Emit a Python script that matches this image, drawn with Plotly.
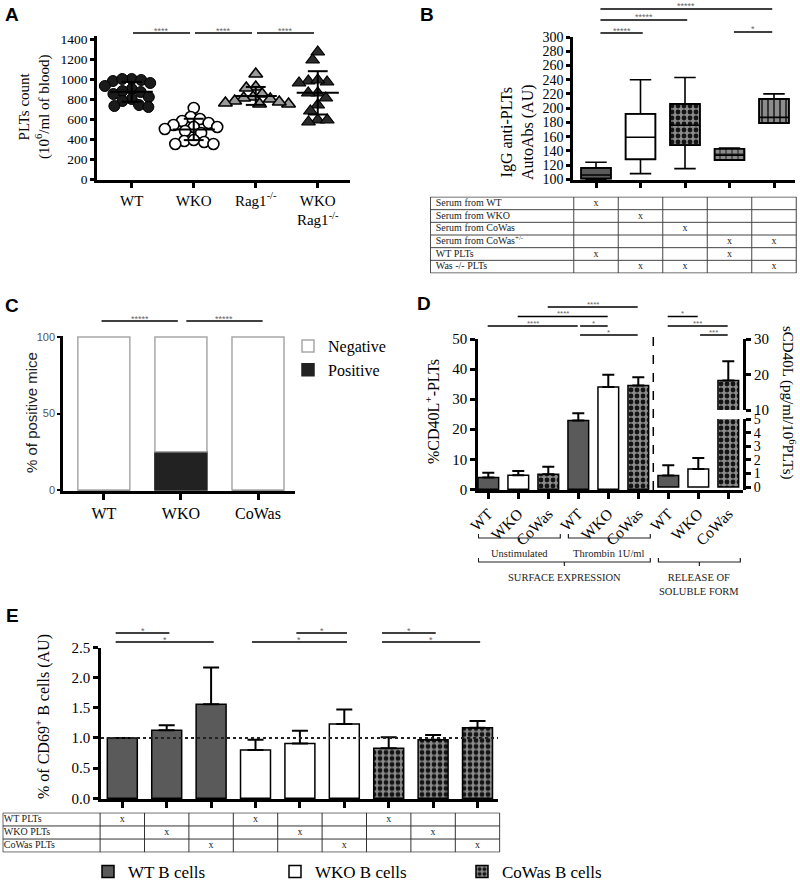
import numpy as np
import plotly.graph_objects as go

W, H = 800, 883
SERIF = "Liberation Serif"
SANS = "Liberation Sans"


def fx(px):
    return px / W


def fy(px):
    return 1 - px / H


# ------------------------------------------------------------------ data
# Panel A : platelet counts (10^6/ml of blood)
a_groups = ["WT", "WKO", "Rag1<sup>-/-</sup>", "WKO<br>Rag1<sup>-/-</sup>"]
a_wt = [1000, 990, 980, 1000, 960, 930, 900, 880, 870, 850, 820, 800, 780, 740, 720, 730]
a_wko = [710, 620, 600, 580, 560, 540, 520, 520, 500, 480, 460, 380, 370, 350, 350, 390]
a_rag = [1050, 920, 910, 850, 820, 810, 800, 780, 760, 750, 750, 770]
a_wkorag = [1270, 1190, 980, 960, 970, 990, 860, 860, 810, 740, 680, 590, 570, 590]
a_ticks = [0, 200, 400, 600, 800, 1000, 1200, 1400]
a_sig = [(0, 1, "****"), (1, 2, "****"), (2, 3, "****")]

# Panel B : IgG anti-PLT auto-antibodies (box statistics)
b_q1 = [101, 128, 148, 127, 179]
b_med = [106, 159, 176, 134, 187]
b_q3 = [116, 192, 206, 143, 213]
b_lo = [100, 108, 115, 127, 179]
b_hi = [124, 240, 243, 144, 220]
b_ticks = [100, 120, 140, 160, 180, 200, 220, 240, 260, 280, 300]
b_rows = ["Serum from WT", "Serum from WKO", "Serum from CoWas",
          "Serum from CoWas<sup>+/-</sup>", "WT PLTs", "Was -/- PLTs"]
b_marks = [[1, 0, 0, 0, 0],
           [0, 1, 0, 0, 0],
           [0, 0, 1, 0, 0],
           [0, 0, 0, 1, 1],
           [1, 0, 0, 1, 0],
           [0, 1, 1, 0, 1]]
b_sig = [(0, 1, 1, "*****"), (3, 4, 1, "*"), (0, 2, 2, "*****"), (0, 4, 3, "*****")]

# Panel C : % of positive mice
c_groups = ["WT", "WKO", "CoWas"]
c_pos = [0, 25, 0]
c_neg = [100, 75, 100]
c_sig = [(0, 1, "*****"), (1, 2, "*****")]

# Panel D : CD40L
d_labels = ["WT", "WKO", "CoWas", "WT", "WKO", "CoWas", "WT", "WKO", "CoWas"]
d_surface = [3.9, 4.7, 5.0, 22.9, 34.0, 34.5]
d_surface_err = [5.5, 6.1, 7.5, 25.3, 38.1, 37.3]
d_soluble = [0.84, 1.33, 18.3]
d_soluble_err = [1.6, 2.14, 23.7]
d_sig = [(2, 5, 1, "****"), (1, 4, 2, "****"), (0, 3, 3, "****"), (3, 4, 3, "*"),
         (3, 5, 4, "*"), (6, 7, 2, "*"), (6, 8, 3, "***"), (7, 8, 4, "***")]
d_brackets = [("Unstimulated", 0, 2, 0), ("Thrombin 1U/ml", 3, 5, 0),
              ("SURFACE EXPRESSION", 0, 5, 1), ("RELEASE OF<br>SOLUBLE FORM", 6, 8, 1)]

# Panel E : CD69+ B cells
e_names = ["WT B cells", "WKO B cells", "CoWas B cells"]
e_vals = [[1.00, 1.13, 1.56], [0.80, 0.91, 1.23], [0.83, 0.97, 1.17]]
e_errs = [[1.00, 1.21, 2.17], [0.97, 1.12, 1.47], [1.01, 1.05, 1.28]]
e_ticks = [0.0, 0.5, 1.0, 1.5, 2.0, 2.5]
e_rows = ["WT PLTs", "WKO PLTs", "CoWas PLTs"]
e_marks = [[1, 0, 0, 1, 0, 0, 1, 0, 0],
           [0, 1, 0, 0, 1, 0, 0, 1, 0],
           [0, 0, 1, 0, 0, 1, 0, 0, 1]]
e_sig = [(0, 1, 1, "*"), (0, 2, 2, "*"), (3, 5, 2, "*"), (4, 5, 1, "*"),
         (6, 7, 1, "*"), (6, 8, 2, "*")]

# ------------------------------------------------------------------ styles
CHK = dict(color="#8a8a8a", shape=".", fg="#141414", size=6, solidity=0.5)
STY = {
    "WT": dict(color="#5a5a5a", shape=""),
    "WKO": dict(color="white", shape=""),
    "CoWas": CHK,
}
B_STY = [dict(color="#5a5a5a", shape=""),
         dict(color="white", shape=""),
         CHK,
         dict(color="#8c8c8c", shape="+", fg="#2a2a2a", size=6, solidity=0.35),
         dict(color="#8c8c8c", shape="|", fg="#2a2a2a", size=6, solidity=0.3)]


def bar_marker(st):
    m = dict(color=st["color"], line=dict(color="black", width=1.5))
    if st.get("shape"):
        m["pattern"] = dict(shape=st["shape"], fgcolor=st["fg"], bgcolor=st["color"],
                            size=st["size"], solidity=st["solidity"], fillmode="replace")
    return m


def swarm_offsets(values, xscale_px, yscale_px, diam_px):
    values = np.asarray(values, float)
    order = np.argsort(-values, kind="stable")
    placed = []
    offs = np.zeros(len(values))
    for idx in order:
        y = values[idx] * yscale_px
        cands = [0.0]
        for (px_, py_) in placed:
            dy = abs(py_ - y)
            if dy < diam_px:
                dx = np.sqrt(diam_px ** 2 - dy ** 2)
                cands += [px_ + dx, px_ - dx]
        cands = sorted(cands, key=lambda c: (abs(c), c))
        for c in cands:
            if all((c - px_) ** 2 + (y - py_) ** 2 >= diam_px ** 2 - 1e-6 for px_, py_ in placed):
                offs[idx] = c
                placed.append((c, y))
                break
    return offs / xscale_px


fig = go.Figure()
shapes, annotations = [], []


def add_sig(xref, x0, x1, ypx, label, size=9):
    shapes.append(dict(type="line", xref=xref, yref="paper", x0=x0, x1=x1,
                       y0=fy(ypx), y1=fy(ypx), line=dict(color="black", width=1.4)))
    annotations.append(dict(xref=xref, yref="paper", x=(x0 + x1) / 2, y=fy(ypx - 2.5),
                            text=label, showarrow=False, xanchor="center", yanchor="middle",
                            font=dict(family=SANS, size=size, color="#666")))


def add_text(x, y, text, size=15, angle=0, family=SERIF, color="black", **kw):
    d = dict(xref="paper", yref="paper", x=fx(x), y=fy(y), text=text, showarrow=False,
             xanchor="center", yanchor="middle",
             textangle=angle, font=dict(family=family, size=size, color=color))
    d.update(kw)
    annotations.append(d)


# ------------------------------------------------------------------ Panel A
a_sets = [a_wt, a_wko, a_rag, a_wkorag]
a_markers = [dict(symbol="circle", size=11, color="#1a1a1a", line=dict(color="black", width=1)),
             dict(symbol="circle", size=11, color="white", line=dict(color="black", width=1.6)),
             dict(symbol="triangle-up", size=12, color="#9a9a9a", line=dict(color="black", width=1.6)),
             dict(symbol="triangle-up", size=12, color="#2a2a2a", line=dict(color="black", width=1.2))]
A_UNIT, A_YPX = 62.0, 0.1
for i, (vals, mk) in enumerate(zip(a_sets, a_markers)):
    off = swarm_offsets(vals, A_UNIT, A_YPX, 9.5)
    fig.add_trace(go.Scatter(x=i + off, y=vals, mode="markers", marker=mk,
                             xaxis="x", yaxis="y", showlegend=False, hoverinfo="skip"))
lx, ly = [], []
for i, vals in enumerate(a_sets):
    m = float(np.mean(vals))
    s = float(np.std(vals, ddof=1))
    lx += [i - 0.34, i + 0.34, None, i - 0.16, i + 0.16, None, i - 0.16, i + 0.16, None, i, i, None]
    ly += [m, m, None, m + s, m + s, None, m - s, m - s, None, m - s, m + s, None]
fig.add_trace(go.Scatter(x=lx, y=ly, mode="lines", line=dict(color="black", width=2),
                         xaxis="x", yaxis="y", showlegend=False, hoverinfo="skip"))
for i, j, lab in a_sig:
    add_sig("x", i + 0.02, j - 0.06, 33, lab)

# ------------------------------------------------------------------ Panel B
for k in range(len(b_q1)):
    fig.add_trace(go.Bar(x=[k], y=[b_q3[k] - b_q1[k]], base=[b_q1[k]], width=0.67,
                         marker=bar_marker(B_STY[k]),
                         xaxis="x2", yaxis="y2", showlegend=False, hoverinfo="skip"))
fig.add_trace(go.Box(x=list(range(len(b_q1))), q1=b_q1, median=b_med, q3=b_q3,
                     lowerfence=b_lo, upperfence=b_hi,
                     width=0.67, whiskerwidth=0.72, fillcolor="rgba(0,0,0,0)",
                     line=dict(color="black", width=1.6), boxpoints=False,
                     xaxis="x2", yaxis="y2", showlegend=False, hoverinfo="skip"))
b_tier = {1: 33, 2: 20, 3: 9}
for i, j, t, lab in b_sig:
    add_sig("x2", i + 0.1, j + 0.05 if j < 4 else j - 0.04, b_tier[t] - (1 if lab == "*" else 0), lab)

# table B
nb_rows, nb_cols = len(b_rows), len(b_marks[0])
TB_LEFT = -3.72
tx, ty, tt = [], [], []
for r, row in enumerate(b_marks):
    for c, v in enumerate(row):
        if v:
            tx.append(c); ty.append(r + 0.5); tt.append("x")
fig.add_trace(go.Scatter(x=tx, y=ty, text=tt, mode="text", textfont=dict(family=SERIF, size=10, color="#222"),
                         xaxis="x3", yaxis="y3", showlegend=False, hoverinfo="skip"))
fig.add_trace(go.Scatter(x=[TB_LEFT + 0.12] * nb_rows, y=np.arange(nb_rows) + 0.5, text=b_rows,
                         mode="text", textposition="middle right",
                         textfont=dict(family=SERIF, size=10, color="#222"),
                         xaxis="x3", yaxis="y3", showlegend=False, hoverinfo="skip"))
for r in range(nb_rows + 1):
    shapes.append(dict(type="line", xref="x3", yref="y3", x0=TB_LEFT, x1=nb_cols - 0.5, y0=r, y1=r,
                       line=dict(color="#444", width=1)))
for c in [TB_LEFT] + [k - 0.5 for k in range(nb_cols + 1)]:
    shapes.append(dict(type="line", xref="x3", yref="y3", x0=c, x1=c, y0=0, y1=nb_rows,
                       line=dict(color="#444", width=1)))

# ------------------------------------------------------------------ Panel C
c_x = np.arange(len(c_groups))
fig.add_trace(go.Bar(x=c_x, y=c_pos, width=0.675, name="Positive", legend="legend2", legendrank=2,
                     marker=dict(color="#222222", line=dict(color="#222222", width=1.5)),
                     xaxis="x4", yaxis="y4", hoverinfo="skip"))
fig.add_trace(go.Bar(x=c_x, y=c_neg, base=c_pos, width=0.675, name="Negative", legend="legend2", legendrank=1,
                     marker=dict(color="white", line=dict(color="#a8a8a8", width=1.5)),
                     xaxis="x4", yaxis="y4", hoverinfo="skip"))
for k, (i, j, lab) in enumerate(c_sig):
    add_sig("x4", i - 0.03 + 0.1 * k, j - 0.04 + 0.1 * k, 321, lab)

# ------------------------------------------------------------------ Panel D
n_surf = len(d_surface)
d_x = np.arange(len(d_labels))
d_val = np.array(d_surface + d_soluble)
d_err = np.array(d_surface_err + d_soluble_err)
is_surf = d_x < n_surf
err_kw = dict(type="data", symmetric=False, color="black", thickness=2, width=6)
for geno in ["WT", "WKO", "CoWas"]:
    sel = np.array([l == geno for l in d_labels])
    for yax, part in [("y5", sel & is_surf), ("y6", sel & ~is_surf), ("y7", sel & ~is_surf)]:
        fig.add_trace(go.Bar(x=d_x[part], y=d_val[part], width=0.69, marker=bar_marker(STY[geno]),
                             error_y=dict(array=d_err[part] - d_val[part],
                                          arrayminus=np.zeros(part.sum()), **err_kw),
                             xaxis="x5", yaxis=yax, showlegend=False, hoverinfo="skip"))
d_tier = {1: 307, 2: 316.5, 3: 326, 4: 335}
for i, j, t, lab in d_sig:
    add_sig("x5", i - 0.02 + (0.08 if t >= 3 and i in (3, 7) else 0), j - 0.02, d_tier[t], lab, size=8)
shapes.append(dict(type="line", xref="x5", yref="paper", x0=n_surf - 0.5, x1=n_surf - 0.5,
                   y0=fy(490), y1=fy(332), line=dict(color="black", width=1.5, dash="dash")))
for lab, g0, g1, lvl in d_brackets:
    x0, x1 = g0 - 0.33, g1 + 0.40
    xc = (x0 + x1) / 2
    yb = 538 if lvl == 0 else 562
    shapes.append(dict(type="path", xref="x5", yref="paper",
                       path=f"M{x0},{fy(yb - 4)} L{x0},{fy(yb)} L{x1},{fy(yb)} L{x1},{fy(yb - 4)} "
                            f"M{xc},{fy(yb)} L{xc},{fy(yb + 4)}",
                       line=dict(color="#222", width=1.2)))
    annotations.append(dict(xref="x5", yref="paper", x=xc, y=fy(yb + 8), xanchor="center", yanchor="top",
                            text=lab, showarrow=False,
                            font=dict(family=SERIF, size=10.5, color="#222")))

# ------------------------------------------------------------------ Panel E
ng = len(e_vals[0])
for g, (name, vals, errs) in enumerate(zip(e_names, e_vals, e_errs)):
    st = STY[name.split()[0]]
    fig.add_trace(go.Bar(x=g * ng + np.arange(ng), y=vals, width=0.675, name=name, legend="legend",
                         marker=bar_marker(st),
                         error_y=dict(array=np.array(errs) - np.array(vals), arrayminus=[0] * ng,
                                      type="data", symmetric=False, color="black", thickness=2, width=8),
                         xaxis="x8", yaxis="y8", hoverinfo="skip"))
shapes.append(dict(type="line", xref="x8 domain", yref="y8", x0=0, x1=1, y0=1.0, y1=1.0,
                   line=dict(color="#222", width=2, dash="dot")))
e_tier = {1: 633, 2: 642}
for i, j, t, lab in e_sig:
    add_sig("x8", i - 0.15 if i in (0, 6) else i - 0.08, j + 0.06, e_tier[t], lab)

# table E
ne_rows, ne_cols = len(e_rows), len(e_marks[0])
TE_LEFT = -2.69
tx, ty, tt = [], [], []
for r, row in enumerate(e_marks):
    for c, v in enumerate(row):
        if v:
            tx.append(c); ty.append(r + 0.5); tt.append("x")
fig.add_trace(go.Scatter(x=tx, y=ty, text=tt, mode="text", textfont=dict(family=SERIF, size=10, color="#222"),
                         xaxis="x9", yaxis="y9", showlegend=False, hoverinfo="skip"))
fig.add_trace(go.Scatter(x=[TE_LEFT + 0.02] * ne_rows, y=np.arange(ne_rows) + 0.5, text=e_rows,
                         mode="text", textposition="middle right",
                         textfont=dict(family=SERIF, size=10, color="#222"),
                         xaxis="x9", yaxis="y9", showlegend=False, hoverinfo="skip"))
for r in range(ne_rows + 1):
    shapes.append(dict(type="line", xref="x9", yref="y9", x0=TE_LEFT, x1=ne_cols - 0.5, y0=r, y1=r,
                       line=dict(color="#333", width=1)))
for c in [TE_LEFT] + [k - 0.5 for k in range(ne_cols + 1)]:
    shapes.append(dict(type="line", xref="x9", yref="y9", x0=c, x1=c, y0=0, y1=ne_rows,
                       line=dict(color="#333", width=1)))

# ------------------------------------------------------------------ text
add_text(12, 15, "<b>A</b>", 19, family=SANS)
add_text(427, 15, "<b>B</b>", 19, family=SANS)
add_text(12, 305, "<b>C</b>", 19, family=SANS)
add_text(424, 303, "<b>D</b>", 19, family=SANS)
add_text(12, 615, "<b>E</b>", 19, family=SANS)
add_text(34, 107, "PLTs count<br>(10<sup>6</sup>/ml of blood)", 15, angle=-90)
add_text(517, 132, "IgG anti-PLTs<br>AutoAbs (AU)", 16, angle=-90)
add_text(31, 413, "% of positive mice", 15, angle=-90, family=SANS, color="#222")
add_text(432, 412, "%CD40L<sup>+</sup>-PLTs", 16, angle=-90)
add_text(789, 403, "sCD40L (pg/ml/10<sup>6</sup>PLTs)", 15, angle=90)
add_text(42, 717, "% of CD69<sup>+</sup> B cells (AU)", 16, angle=-90)


# ------------------------------------------------------------------ axes
def ax(domain, rng, **kw):
    d = dict(domain=domain, range=rng, showgrid=False, zeroline=False, showline=True,
             linecolor="black", linewidth=2.5, ticks="outside", ticklen=5, tickwidth=2.5,
             tickcolor="black", tickfont=dict(family=SERIF, size=14, color="black"),
             fixedrange=True, automargin=False)
    d.update(kw)
    return d


def hidden(domain, rng):
    return dict(domain=domain, range=rng, visible=False, showgrid=False, zeroline=False,
                fixedrange=True, automargin=False)


B0, BU = 596.0, 44.5   # panel B: px of x=0 and px per unit
D0, DU = 488.3, 30.0
E0, EU = 122.3, 44.4

layout = dict(
    width=W, height=H, margin=dict(l=0, r=0, t=0, b=0, pad=0, autoexpand=False),
    paper_bgcolor="white", plot_bgcolor="rgba(0,0,0,0)",
    barmode="overlay", boxmode="overlay",
    shapes=shapes, annotations=annotations,
    xaxis=ax([fx(97), fx(350)], [-0.56, 3.52], anchor="y", tickvals=list(range(4)), ticktext=a_groups,
             tickfont=dict(family=SERIF, size=15, color="black")),
    yaxis=ax([fy(180), fy(36)], [-10, 1430], anchor="x", tickvals=a_ticks, ticklen=4,
             tickfont=dict(family=SERIF, size=13.5, color="black")),
    xaxis2=ax([fx(573), fx(795)], [(573 - B0) / BU, (795 - B0) / BU], anchor="y2",
              tickvals=list(range(5)), showticklabels=False),
    yaxis2=ax([fy(180), fy(37)], [99, 300], anchor="x2", tickvals=b_ticks, ticklen=4,
              tickfont=dict(family=SERIF, size=14, color="black")),
    xaxis3=hidden([fx(B0 + (TB_LEFT - 0.01) * BU), fx(B0 + 4.52 * BU)], [TB_LEFT - 0.01, 4.52]),
    yaxis3=hidden([fy(273.5), fy(196.5)], [nb_rows + 0.04, -0.04]),
    xaxis4=ax([fx(63), fx(295)], [-0.53, 2.48], anchor="y4", tickvals=list(range(3)), ticktext=c_groups,
              ticklen=6, tickwidth=3, tickfont=dict(family=SERIF, size=16, color="black")),
    yaxis4=ax([fy(491), fy(336)], [-0.6, 100.6], anchor="x4", tickvals=[0, 50, 100], ticklen=3, tickwidth=1.5,
              tickfont=dict(family=SANS, size=11, color="#555")),
    xaxis5=ax([fx(478), fx(D0 + 8.5 * DU)], [(478 - D0) / DU, 8.5], anchor="y5",
              tickvals=list(range(len(d_labels))), ticktext=d_labels, tickangle=-45, ticklen=6,
              tickfont=dict(family=SERIF, size=15.5, color="black")),
    yaxis5=ax([fy(490), fy(339)], [-0.23, 50], anchor="x5", tickvals=[0, 10, 20, 30, 40, 50],
              tickfont=dict(family=SERIF, size=15, color="black")),
    yaxis6=ax([fy(490), fy(419)], [-0.22, 5], anchor="x5", side="right", tickvals=[0, 1, 2, 3, 4, 5],
              ticklen=5, tickfont=dict(family=SERIF, size=14, color="black")),
    yaxis7=ax([fy(410), fy(339)], [10, 30], anchor="x5", side="right", tickvals=[10, 20, 30],
              tickfont=dict(family=SERIF, size=15, color="black")),
    xaxis8=ax([fx(101), fx(498)], [(101 - E0) / EU, (498 - E0) / EU], anchor="y8",
              tickvals=list(range(9)), showticklabels=False, ticklen=6),
    yaxis8=ax([fy(799), fy(647.5)], [-0.012, 2.5], anchor="x8", tickvals=e_ticks, tickformat=".1f",
              tickfont=dict(family=SERIF, size=15, color="black")),
    xaxis9=hidden([fx(E0 + (TE_LEFT - 0.01) * EU), fx(E0 + 8.52 * EU)], [TE_LEFT - 0.01, 8.52]),
    yaxis9=hidden([fy(852.5), fy(812.5)], [ne_rows + 0.03, -0.03]),
    legend=dict(orientation="h", x=fx(88), y=fy(872), xanchor="left", yanchor="middle",
                font=dict(family=SERIF, size=17, color="black"), entrywidth=142, entrywidthmode="pixels",
                bgcolor="rgba(0,0,0,0)", itemclick=False, itemdoubleclick=False),
    legend2=dict(x=fx(288), y=fy(329), xanchor="left", yanchor="top", tracegroupgap=0,
                 font=dict(family=SERIF, size=16, color="black"), bgcolor="rgba(0,0,0,0)",
                 itemclick=False, itemdoubleclick=False),
)
fig.update_layout(**layout)
fig.write_html("out.html", config={"displayModeBar": False},
               post_script="document.body.style.margin='0';")
